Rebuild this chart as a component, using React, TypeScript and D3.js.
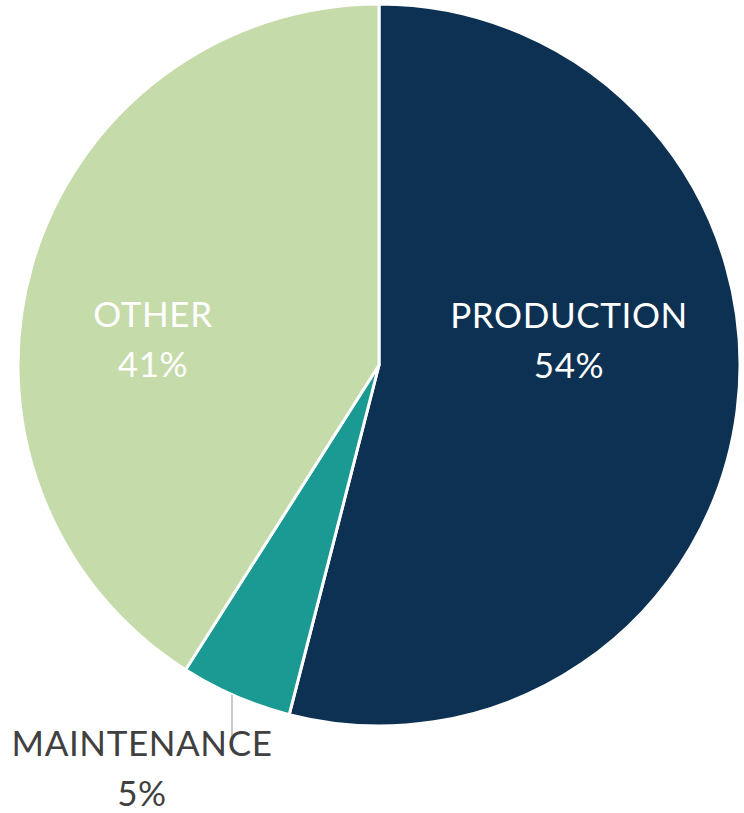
import React from "react";
import * as d3 from "d3";

const categories = ["PRODUCTION", "MAINTENANCE", "OTHER"];
const values = [54, 5, 41];
const percentLabels = ["54%", "5%", "41%"];
const colors = ["#0D3152", "#1A9A93", "#C5DBAA"];

const W = 744;
const H = 813;
const cx = 379;
const cy = 365;
const R = 361;

// label layout (offsets from pie center) and text colour per category
const labelLayout = [
  { dx: 190, dy: -37, fill: "#FFFFFF" },
  { dx: -237, dy: 391, fill: "#404040" },
  { dx: -226, dy: -38, fill: "#FFFFFF" },
];

export default function App() {
  const pie = d3.pie<number>().sort(null).value((d) => d);
  const arcs = pie(values);
  const arc = d3.arc<d3.PieArcDatum<number>>().innerRadius(0).outerRadius(R);

  const leaderX = cx - 147;
  const leaderTop = cy + 330;
  const leaderBottom = cy + 374;

  return (
    <svg
      width={W}
      height={H}
      style={{ position: "absolute", left: 0, top: 0 }}
      fontFamily="Lato, 'Open Sans', sans-serif"
    >
      <rect width={W} height={H} fill="#FFFFFF" />
      <g transform={`translate(${cx},${cy})`}>
        {arcs.map((a, i) => (
          <path
            key={categories[i]}
            d={arc(a) || ""}
            fill={colors[i]}
            stroke="#FFFFFF"
            strokeWidth={3}
            strokeLinejoin="round"
          />
        ))}
      </g>
      <line
        x1={leaderX}
        x2={leaderX}
        y1={leaderTop}
        y2={leaderBottom}
        stroke="#A6A6A6"
        strokeWidth={1.2}
      />
      {categories.map((c, i) => {
        const l = labelLayout[i];
        const x = cx + l.dx;
        const y = cy + l.dy;
        return (
          <text
            key={c}
            x={x}
            textAnchor="middle"
            fill={l.fill}
            fontSize={35}
            letterSpacing={0.6}
          >
            <tspan x={x} y={y}>{c}</tspan>
            <tspan x={x} y={y + 50}>{percentLabels[i]}</tspan>
          </text>
        );
      })}
    </svg>
  );
}
